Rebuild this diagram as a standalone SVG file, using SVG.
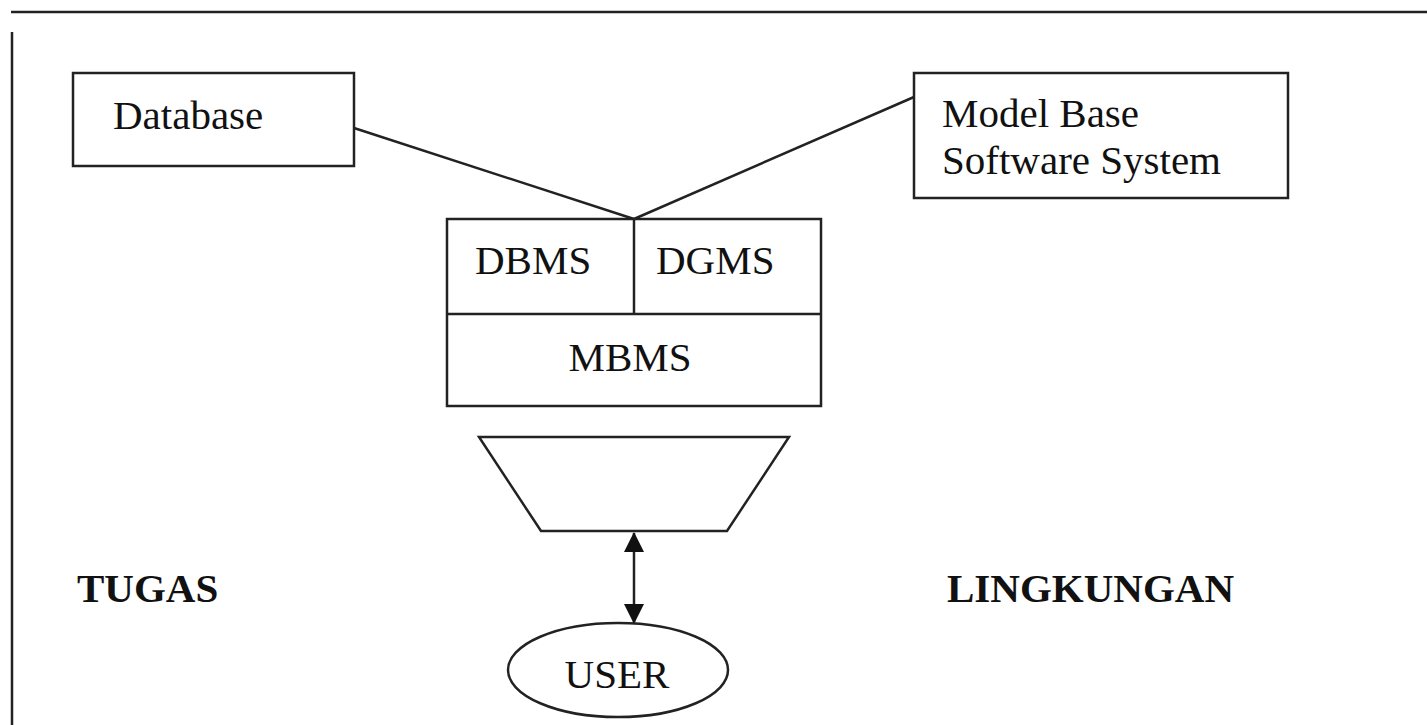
<svg xmlns="http://www.w3.org/2000/svg" width="1427" height="725" viewBox="0 0 1427 725">
<style>
.s{fill:#fff;stroke:#222;stroke-width:2.5}
.l{stroke:#222;stroke-width:2.5;fill:none}
.t{font-family:"Liberation Serif",serif;font-size:41px;fill:#111}
.b{font-family:"Liberation Serif",serif;font-size:41px;font-weight:bold;fill:#111}
</style>
<defs>
<marker id="ah" viewBox="0 0 20 20" refX="19" refY="10" markerWidth="20" markerHeight="20" orient="auto-start-reverse" markerUnits="userSpaceOnUse">
<path d="M0,0 L20,10 L0,20 z" fill="#111"/>
</marker>
</defs>
<rect width="1427" height="725" fill="#fff"/>
<line class="l" x1="11" y1="12" x2="1427" y2="12" stroke="#555"/>
<line class="l" x1="12" y1="32" x2="12" y2="725" stroke="#555"/>
<g id="connectors">
<line class="l" x1="354" y1="128" x2="634" y2="219"/>
<line class="l" x1="914" y1="97" x2="634" y2="219"/>
<line class="l" x1="634" y1="533" x2="634" y2="623" stroke-width="3" marker-start="url(#ah)" marker-end="url(#ah)"/>
</g>
<g id="database">
<rect class="s" x="73" y="73" width="281" height="93"/>
<text class="t" x="113" y="129">Database</text>
</g>
<g id="modelbase">
<rect class="s" x="914" y="73" width="374" height="125"/>
<text class="t" x="942" y="127">Model Base</text>
<text class="t" x="942" y="174">Software System</text>
</g>
<g id="dss">
<rect class="s" x="447" y="219" width="374" height="187"/>
<line class="l" x1="447" y1="314" x2="821" y2="314"/>
<line class="l" x1="634" y1="219" x2="634" y2="314"/>
<text class="t" x="475" y="274">DBMS</text>
<text class="t" x="656" y="274">DGMS</text>
<text class="t" x="630" y="371" text-anchor="middle">MBMS</text>
</g>
<g id="dialog">
<polygon class="s" points="479,437 789,437 727,531 541,531"/>
</g>
<g id="user">
<ellipse class="s" cx="618" cy="670" rx="110" ry="47"/>
<text class="t" x="617" y="688" text-anchor="middle">USER</text>
</g>
<g id="tugas"><text class="b" x="77" y="602">TUGAS</text></g>
<g id="lingkungan"><text class="b" x="947" y="602">LINGKUNGAN</text></g>
</svg>
